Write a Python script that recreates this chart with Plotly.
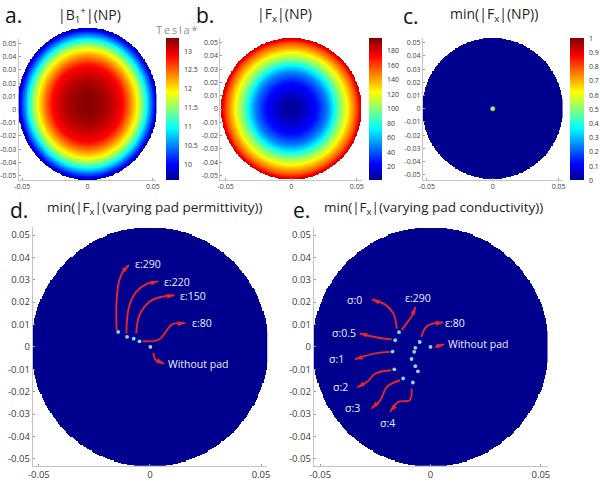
import numpy as np
import plotly.graph_objects as go

W, H = 600, 488

# ---------------- data ----------------
DISC_R = 0.0535  # phantom radius [m]

# panel a: |B1+| radial profile (Tesla*)
b1_radius = [0.0, 0.008, 0.0166, 0.0268, 0.0326, 0.0380, 0.0417, 0.0452, 0.0514, 0.0535]
b1_value = [13.33, 13.29, 13.16, 12.87, 12.41, 11.92, 11.47, 10.96, 10.00, 9.60]

# panel b: |Fx| radial profile
fx_radius = [0.0, 0.0075, 0.0198, 0.0273, 0.0321, 0.0358, 0.0423, 0.0498, 0.0535]
fx_value = [2, 8, 26, 48, 70, 92, 122, 158, 185]

# panel c: location of min(|Fx|) without pad
np_min_x = [0.0]
np_min_y = [0.0]

# panel d: minima for varying pad permittivity
perm_x = [-0.0143, -0.0103, -0.0073, -0.0047, 0.0002]
perm_y = [0.0067, 0.0045, 0.0037, 0.0025, 0.0]
perm_labels = ["ε:290", "ε:220", "ε:150", "ε:80", "Without pad"]
perm_label_x = [-0.0010, 0.0123, 0.0193, 0.0235, 0.0215]
perm_label_y = [0.0369, 0.0290, 0.0228, 0.0107, -0.0077]
perm_arrow_x = [
    [-0.0150, -0.0150, -0.0138, -0.0118, -0.0094],
    [-0.0106, -0.0094, -0.0062, -0.0018, 0.0038],
    [-0.0062, -0.0047, -0.0003, 0.0049, 0.0111],
    [-0.0032, 0.0042, 0.0071, 0.0100, 0.0159],
    [0.0015, 0.0027, 0.0064],
]
perm_arrow_y = [
    [0.0075, 0.0208, 0.0298, 0.0342, 0.0365],
    [0.0060, 0.0179, 0.0246, 0.0280, 0.0293],
    [0.0060, 0.0142, 0.0201, 0.0223, 0.0231],
    [0.0025, 0.0033, 0.0067, 0.0101, 0.0107],
    [-0.0027, -0.0059, -0.0074],
]

# panel e: minima for varying pad conductivity
cond_x = [-0.0143, -0.0160, -0.0172, -0.0164, -0.0124, -0.0080,
          -0.0049, -0.0069, -0.0074, -0.0086, -0.0069, -0.0057, 0.0]
cond_y = [0.0066, 0.0030, -0.0021, -0.0100, -0.0141, -0.0159,
          0.0022, -0.0004, -0.0022, -0.0054, -0.0086, -0.0109, 0.0]
cond_labels = ["σ:0", "ε:290", "ε:80", "σ:0.5", "Without pad", "σ:1", "σ:2", "σ:3", "σ:4"]
cond_label_x = [-0.0343, -0.0057, 0.0109, -0.0394, 0.0214, -0.0424, -0.0410, -0.0353, -0.0194]
cond_label_y = [0.0208, 0.0219, 0.0109, 0.0060, 0.0012, -0.0055, -0.0181, -0.0275, -0.0342]
cond_arrow_x = [
    [-0.0153, -0.0168, -0.0205, -0.0265],
    [-0.0131, -0.0109, -0.0079, -0.0069],
    [-0.0042, -0.0020, 0.0010, 0.0058],
    [-0.0176, -0.0242, -0.0321],
    [0.0020, 0.0062],
    [-0.0183, -0.0250, -0.0342],
    [-0.0178, -0.0250, -0.0287, -0.0332],
    [-0.0138, -0.0198, -0.0227, -0.0267],
    [-0.0086, -0.0094, -0.0146, -0.0183],
]
cond_arrow_y = [
    [0.0082, 0.0149, 0.0189, 0.0212],
    [0.0075, 0.0104, 0.0149, 0.0179],
    [0.0045, 0.0089, 0.0104, 0.0109],
    [0.0033, 0.0042, 0.0060],
    [0.0000, 0.0011],
    [-0.0022, -0.0029, -0.0055],
    [-0.0104, -0.0119, -0.0156, -0.0181],
    [-0.0149, -0.0179, -0.0238, -0.0275],
    [-0.0186, -0.0238, -0.0246, -0.0290],
]

# tick labels
pos_ticks = [0.05, 0.04, 0.03, 0.02, 0.01, 0.0, -0.01, -0.02, -0.03, -0.04, -0.05]
pos_text = ["0.05", "0.04", "0.03", "0.02", "0.01", "0", "-0.01", "-0.02", "-0.03", "-0.04", "-0.05"]
x_ticks = [-0.05, 0.0, 0.05]
x_text = ["-0.05", "0", "0.05"]
b1_cb_ticks = [10, 10.5, 11, 11.5, 12, 12.5, 13]
fx_cb_ticks = [20, 40, 60, 80, 100, 120, 140, 160, 180]
min_cb_ticks = [0, 0.1, 0.2, 0.3, 0.4, 0.5, 0.6, 0.7, 0.8, 0.9, 1]
min_cb_text = ["0", "0.1", "0.2", "0.3", "0.4", "0.5", "0.6", "0.7", "0.8", "0.9", "1"]

# ---------------- helpers ----------------
JET = [[0.0, "rgb(0,0,143)"], [0.111, "rgb(0,0,255)"], [0.365, "rgb(0,255,255)"],
       [0.619, "rgb(255,255,0)"], [0.873, "rgb(255,0,0)"], [1.0, "rgb(128,0,0)"]]


def xd(p0, p1):
    return [p0 / W, p1 / W]


def yd(top, bottom):
    return [1 - bottom / H, 1 - top / H]


grid = np.arange(-0.0545, 0.05451, 0.0005)
GX, GY = np.meshgrid(grid, grid)
RR = np.hypot(GX, GY)
inside = RR <= DISC_R
z_b1 = np.where(inside, np.interp(RR, b1_radius, b1_value), np.nan)
z_fx = np.where(inside, np.interp(RR, fx_radius, fx_value), np.nan)
z_min = np.where(inside, 0.0, np.nan)

fig = go.Figure()

ARROW_RED = "#E5262B"
DOT = "#8FD4DE"
LABEL = "#ECECF8"


def cbar(x_px, top_px, len_px, thick, vals, text=None):
    d = dict(x=x_px / W, xanchor="left", y=1 - top_px / H, yanchor="top",
             len=len_px, lenmode="pixels", thickness=thick, thicknessmode="pixels",
             xpad=0, ypad=0, outlinewidth=0, tickvals=vals,
             ticks="outside", ticklen=4, tickcolor="rgba(0,0,0,0)",
             tickfont=dict(size=7, color="#333"))
    if text is not None:
        d["ticktext"] = text
    return d


# panel a
fig.add_trace(go.Heatmap(x=grid, y=grid, z=z_b1, colorscale=JET, zmin=9.58, zmax=13.35,
                         xaxis="x", yaxis="y6", hoverinfo="skip",
                         colorbar=cbar(164, 38, 142, 13, b1_cb_ticks)))
fig.add_trace(go.Scatter(x=[], y=[], xaxis="x", yaxis="y", showlegend=False))
# panel b
fig.add_trace(go.Heatmap(x=grid, y=grid, z=z_fx, colorscale=JET, zmin=1.6, zmax=197,
                         xaxis="x2", yaxis="y2", hoverinfo="skip",
                         colorbar=cbar(370, 38.3, 142, 13, fx_cb_ticks)))
# panel c
fig.add_trace(go.Heatmap(x=grid, y=grid, z=z_min, colorscale=JET, zmin=0, zmax=1,
                         xaxis="x3", yaxis="y3", hoverinfo="skip",
                         colorbar=cbar(575, 38.3, 142, 14, min_cb_ticks, min_cb_text)))
fig.add_trace(go.Scatter(x=np_min_x, y=np_min_y, mode="markers", xaxis="x3", yaxis="y3",
                         marker=dict(size=4.5, color="#C4DC6A", opacity=1,
                                     line=dict(width=1, color="rgba(110,200,140,0.55)")),
                         showlegend=False, hoverinfo="skip"))
# panel d
fig.add_trace(go.Heatmap(x=grid, y=grid, z=z_min, colorscale=JET, zmin=0, zmax=1,
                         xaxis="x4", yaxis="y4", showscale=False, hoverinfo="skip"))
# panel e
fig.add_trace(go.Heatmap(x=grid, y=grid, z=z_min, colorscale=JET, zmin=0, zmax=1,
                         xaxis="x5", yaxis="y5", showscale=False, hoverinfo="skip"))


def add_arrows(ax_x, ax_y, xs, ys):
    for ax_, ay_ in zip(xs, ys):
        sizes = [0] * (len(ax_) - 1) + [8]
        fig.add_trace(go.Scatter(
            x=ax_, y=ay_, mode="lines+markers", xaxis=ax_x, yaxis=ax_y,
            line=dict(color=ARROW_RED, width=1.9, shape="spline", smoothing=1.1),
            marker=dict(symbol="arrow", angleref="previous", size=sizes, color=ARROW_RED,
                        opacity=1, line=dict(width=0, color=ARROW_RED)),
            showlegend=False, hoverinfo="skip"))


add_arrows("x4", "y4", perm_arrow_x, perm_arrow_y)
add_arrows("x5", "y5", cond_arrow_x, cond_arrow_y)

fig.add_trace(go.Scatter(x=perm_x, y=perm_y, mode="markers", xaxis="x4", yaxis="y4",
                         marker=dict(size=3.8, color=DOT, opacity=1, line=dict(width=0)),
                         showlegend=False, hoverinfo="skip"))
fig.add_trace(go.Scatter(x=cond_x, y=cond_y, mode="markers", xaxis="x5", yaxis="y5",
                         marker=dict(size=3.8, color=DOT, opacity=1, line=dict(width=0)),
                         showlegend=False, hoverinfo="skip"))

# ---------------- axes ----------------
AX_LINE = "#C4C4C4"


def ax_common(fs):
    return dict(showline=True, linecolor=AX_LINE, linewidth=1, ticks="inside", ticklen=2,
                tickcolor="#9A9A9A", showgrid=False, zeroline=False,
                tickfont=dict(size=fs, color="#3C3C3C"))


def xax(dom, rng, anchor, fs):
    d = ax_common(fs)
    d.update(domain=dom, range=rng, anchor=anchor, tickvals=x_ticks, ticktext=x_text)
    return d


def yax(dom, rng, anchor, fs):
    d = ax_common(fs)
    d.update(domain=dom, range=rng, anchor=anchor, tickvals=pos_ticks, ticktext=pos_text)
    return d


layout_axes = dict(
    xaxis=xax(xd(14, 154), [-0.0527, 0.0527], "y", 7),
    yaxis=yax(yd(39, 180), [-0.0533, 0.0533], "x", 7),
    yaxis6=dict(domain=yd(27.7, 180), range=[-0.0535, 0.0535], anchor="x", visible=False),
    xaxis2=xax(xd(219, 363), [-0.054, 0.054], "y2", 7),
    yaxis2=yax(yd(38, 180), [-0.0535, 0.0535], "x2", 7),
    xaxis3=xax(xd(425, 567), [-0.053, 0.053], "y3", 7),
    yaxis3=yax(yd(37.5, 180), [-0.054, 0.054], "x3", 7),
    xaxis4=xax(xd(28.3, 266.7), [-0.0527, 0.0528], "y4", 9.5),
    yaxis4=yax(yd(227, 465.7), [-0.0531, 0.0536], "x4", 9.5),
    xaxis5=xax(xd(314, 551.7), [-0.0529, 0.0530], "y5", 9.5),
    yaxis5=yax(yd(227, 465.7), [-0.0531, 0.0536], "x5", 9.5),
)

ann = []


def paper_text(text, px, py, size, color="#1E1E1E", xanchor="center"):
    ann.append(dict(text=text, x=px / W, y=1 - py / H, xref="paper", yref="paper",
                    xanchor=xanchor, yanchor="middle", showarrow=False,
                    font=dict(size=size, color=color)))


paper_text("a.", -2, 15, 21, "#111", "left")
paper_text("b.", 203, 15, 21, "#111")
paper_text("c.", 413, 16, 21, "#111")
paper_text("d.", 14, 210, 21, "#111")
paper_text("e.", 302, 210, 21, "#111")
paper_text("|B<sub>1</sub><sup>+</sup>|(NP)", 86, 15, 14)
paper_text("|F<sub>x</sub>|(NP)", 284, 15, 14)
paper_text("min(|F<sub>x</sub>|(NP))", 497, 15, 14)
paper_text("min(|F<sub>x</sub>|(varying pad permittivity))", 152, 208, 13.5)
paper_text("min(|F<sub>x</sub>|(varying pad conductivity))", 436, 208, 13.5)
paper_text("T\u2009e\u2009s\u2009l\u2009a\u2009*", 175, 29, 11, "#8E8E8E")

for t, lx, ly in zip(perm_labels, perm_label_x, perm_label_y):
    ann.append(dict(text=t, x=lx, y=ly, xref="x4", yref="y4", showarrow=False,
                    xanchor="center", yanchor="middle", font=dict(size=10.5, color=LABEL)))
for t, lx, ly in zip(cond_labels, cond_label_x, cond_label_y):
    ann.append(dict(text=t, x=lx, y=ly, xref="x5", yref="y5", showarrow=False,
                    xanchor="center", yanchor="middle", font=dict(size=10.5, color=LABEL)))

fig.update_layout(
    width=W, height=H, margin=dict(l=0, r=0, t=0, b=0),
    paper_bgcolor="white", plot_bgcolor="rgba(0,0,0,0)",
    font=dict(family="Open Sans, Lato, sans-serif"),
    showlegend=False, annotations=ann, **layout_axes,
)

fig.write_html("out.html")
